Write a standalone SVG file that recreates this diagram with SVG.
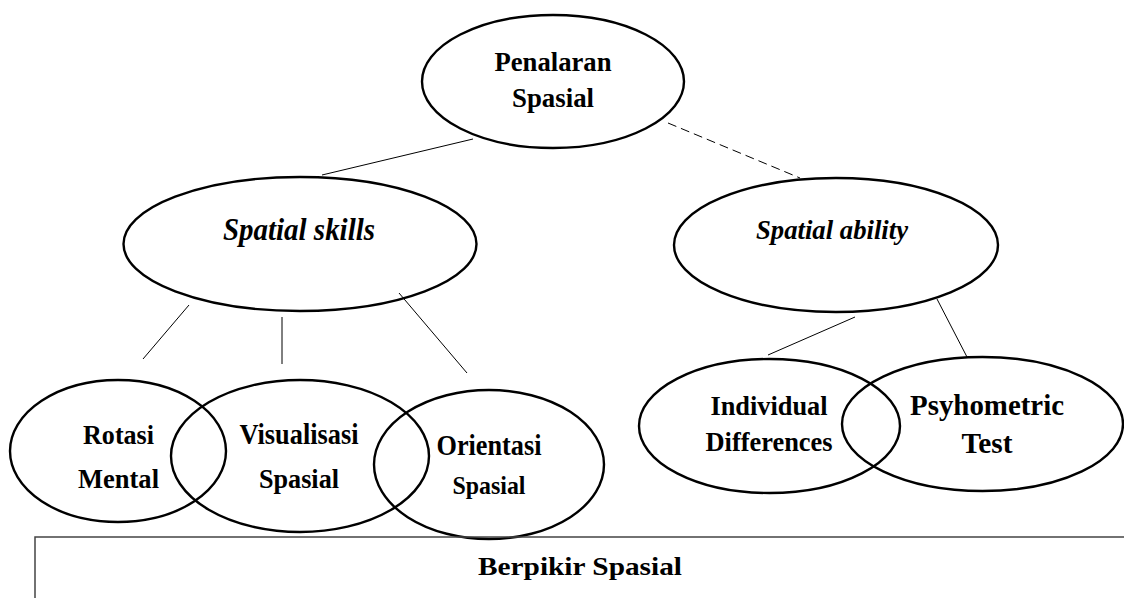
<svg xmlns="http://www.w3.org/2000/svg" width="1124" height="598" viewBox="0 0 1124 598">
<style>
.n{fill:none;stroke:#000;stroke-width:2.4}
.t{font-family:"Liberation Serif","Times New Roman",serif;font-weight:bold;fill:#000;text-anchor:middle}
.i{font-style:italic}
.c{stroke:#000;stroke-width:1;fill:none}
.d{stroke-dasharray:9 5}
</style>
<rect width="1124" height="598" fill="#fff"/>
<g id="connectors">
<line class="c" x1="473" y1="139" x2="322" y2="175"/>
<line class="c d" x1="668" y1="123" x2="800" y2="178"/>
<line class="c" x1="189" y1="305" x2="143" y2="359"/>
<line class="c" x1="282" y1="317" x2="282" y2="364"/>
<line class="c" x1="399" y1="293" x2="467" y2="373"/>
<line class="c" x1="855" y1="317" x2="768" y2="355"/>
<line class="c" x1="937" y1="299" x2="967" y2="357"/>
</g>
<g id="penalaran">
<ellipse class="n" cx="553" cy="81.5" rx="131" ry="66.5"/>
<text class="t" x="553" y="71" font-size="27" textLength="117" lengthAdjust="spacingAndGlyphs">Penalaran</text>
<text class="t" x="553" y="107" font-size="27" textLength="82" lengthAdjust="spacingAndGlyphs">Spasial</text>
</g>
<g id="spatial-skills">
<ellipse class="n" cx="300" cy="244" rx="176.5" ry="67"/>
<text class="t i" x="299" y="240" font-size="31" textLength="152" lengthAdjust="spacingAndGlyphs">Spatial skills</text>
</g>
<g id="spatial-ability">
<ellipse class="n" cx="836" cy="245" rx="162" ry="67"/>
<text class="t i" x="832" y="239" font-size="27" textLength="152" lengthAdjust="spacingAndGlyphs">Spatial ability</text>
</g>
<g id="rotasi">
<ellipse class="n" cx="118" cy="451" rx="108" ry="71"/>
<text class="t" x="118.5" y="444" font-size="27" textLength="71" lengthAdjust="spacingAndGlyphs">Rotasi</text>
<text class="t" x="118.5" y="487.5" font-size="27" textLength="81" lengthAdjust="spacingAndGlyphs">Mental</text>
</g>
<g id="visualisasi">
<ellipse class="n" cx="300" cy="456" rx="129" ry="76"/>
<text class="t" x="299" y="444" font-size="29" textLength="119" lengthAdjust="spacingAndGlyphs">Visualisasi</text>
<text class="t" x="299" y="487.5" font-size="28" textLength="80" lengthAdjust="spacingAndGlyphs">Spasial</text>
</g>
<g id="orientasi">
<ellipse class="n" cx="489" cy="464.5" rx="115" ry="74.5"/>
<text class="t" x="489" y="455" font-size="29" textLength="105" lengthAdjust="spacingAndGlyphs">Orientasi</text>
<text class="t" x="489" y="493.5" font-size="25" textLength="73" lengthAdjust="spacingAndGlyphs">Spasial</text>
</g>
<g id="individual">
<ellipse class="n" cx="769.5" cy="426" rx="130.5" ry="67"/>
<text class="t" x="769" y="415" font-size="27" textLength="117" lengthAdjust="spacingAndGlyphs">Individual</text>
<text class="t" x="769" y="451" font-size="27" textLength="127" lengthAdjust="spacingAndGlyphs">Differences</text>
</g>
<g id="psyhometric">
<ellipse class="n" cx="982.5" cy="424" rx="140.5" ry="67"/>
<text class="t" x="987" y="415" font-size="30" textLength="154" lengthAdjust="spacingAndGlyphs">Psyhometric</text>
<text class="t" x="987" y="453" font-size="30" textLength="51" lengthAdjust="spacingAndGlyphs">Test</text>
</g>
<g id="berpikir">
<polyline points="35,598 35,537 1124,537" fill="none" stroke="#444" stroke-width="1.5"/>
<text class="t" x="580" y="575" font-size="26" textLength="204" lengthAdjust="spacingAndGlyphs">Berpikir Spasial</text>
</g>
</svg>
